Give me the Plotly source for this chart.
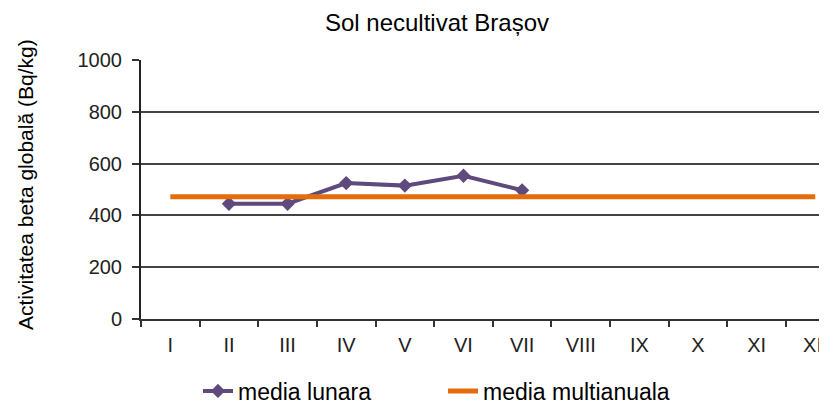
import plotly.graph_objects as go

months = ["I", "II", "III", "IV", "V", "VI", "VII", "VIII", "IX", "X", "XI", "XII"]
monthly_months = ["II", "III", "IV", "V", "VI", "VII"]
monthly_values = [445, 445, 525, 515, 553, 497]
multiannual_value = 472
multiannual_values = [multiannual_value] * len(months)

FONT = "Liberation Sans, Arial, sans-serif"

# page has an 8px body margin, so figure is sized to fit the 827x405 window
W, H = 819, 397
L, T, B = 133, 52, 86
PW, PH = W - L, H - T - B

fig = go.Figure()
fig.add_trace(go.Scatter(
    x=monthly_months, y=monthly_values, name="media lunara",
    mode="lines+markers",
    line=dict(color="#5F4A7E", width=4),
    marker=dict(symbol="diamond", size=11, color="#5F4A7E"),
))
fig.add_trace(go.Scatter(
    x=months, y=multiannual_values, name="media multianuala",
    mode="lines",
    line=dict(color="#E46C0A", width=5),
))

fig.update_layout(
    width=W, height=H,
    margin=dict(l=L, r=0, t=T, b=B, autoexpand=False),
    paper_bgcolor="white", plot_bgcolor="white",
    font=dict(family=FONT, size=20, color="#000000"),
    title=dict(text="Sol necultivat Brașov", x=429 / W, xref="container",
               y=1 - 15 / H, yref="container", xanchor="center", yanchor="middle",
               font=dict(family=FONT, size=24, color="#000000")),
    showlegend=True,
    legend=dict(orientation="h", xref="container", yref="container",
                x=190 / W, y=1 - 383 / H, xanchor="left", yanchor="middle",
                font=dict(family=FONT, size=23, color="#000000"),
                entrywidth=200, entrywidthmode="pixels",
                bgcolor="rgba(0,0,0,0)"),
    xaxis=dict(
        categoryorder="array", categoryarray=months,
        range=[-0.5, 11.2],
        tickson="boundaries", ticks="outside", ticklen=6, tickcolor="#333333", tickwidth=1.5,
        showline=True, linecolor="#333333", linewidth=2,
        showgrid=False, zeroline=False, ticklabelstandoff=7,
        tickfont=dict(family=FONT, size=20, color="#222222"),
    ),
    yaxis=dict(
        range=[0, 1000], tickvals=[0, 200, 400, 600, 800, 1000],
        ticks="outside", ticklen=7, tickcolor="#333333", tickwidth=1.5,
        showline=True, linecolor="#222222", linewidth=2,
        showgrid=True, gridcolor="#444444", gridwidth=1.5,
        zeroline=False, ticklabelstandoff=6,
        tickfont=dict(family=FONT, size=20, color="#222222"),
    ),
    annotations=[dict(
        text="Activitatea beta globală (Bq/kg)", textangle=-90,
        xref="paper", yref="paper", x=-(L - 17) / PW, y=(PH + T - 177) / PH,
        xanchor="center", yanchor="middle", showarrow=False,
        font=dict(family=FONT, size=21, color="#000000"),
    )],
)

fig.write_html("out.html")
